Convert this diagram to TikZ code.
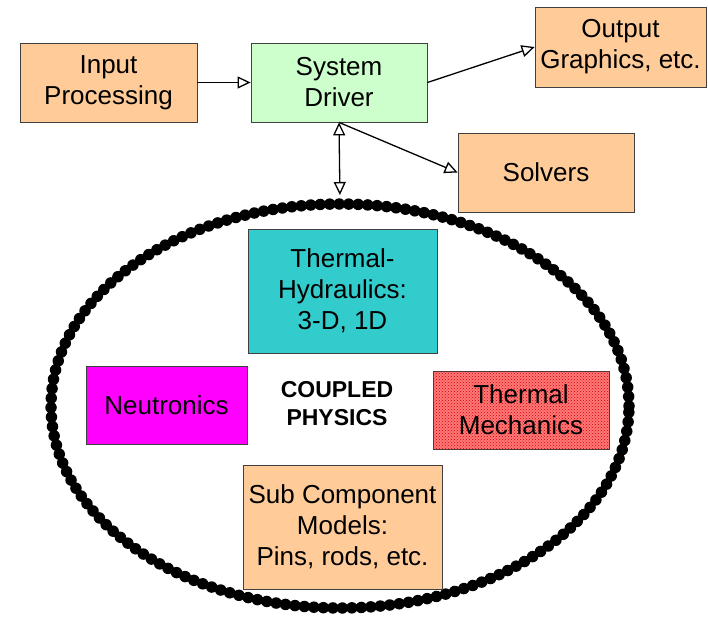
\documentclass[tikz,border=0pt]{standalone}
\usepackage{fontspec}
\setmainfont{Liberation Sans}
\usetikzlibrary{arrows.meta,shapes.geometric,patterns}

\begin{document}
\begin{tikzpicture}[x=1pt, y=-1pt, >={Triangle[open, length=13pt, width=12pt]},
		font=\fontsize{26}{31}\selectfont,
		box/.style={draw=black!75, line width=0.8pt, inner sep=0pt, align=center},
		link/.style={->, line width=1.3pt}]
			\definecolor{peach}{RGB}{255, 204, 153}
			\definecolor{mint}{RGB}{204, 255, 204}
			\definecolor{teal}{RGB}{51, 204, 204}
			\definecolor{pinkish}{RGB}{255, 0, 255}
			\definecolor{tmred}{RGB}{255, 120, 120}

			\useasboundingbox (0,0) rectangle (708,618);

			% 上方模块
			\node[box, fill=peach, minimum width=177pt, minimum height=79pt] (inp) at (108.5,82.5) {Input\\Processing};
			\node[box, fill=mint, minimum width=176pt, minimum height=79pt] (drv) at (339,82.5) {System\\Driver};
			\node[box, fill=peach, minimum width=171pt, minimum height=80pt] (outp) at (620.5,47) {Output\\Graphics, etc.};
			\node[box, fill=peach, minimum width=176pt, minimum height=79pt] (solv) at (546,172.5) {Solvers};

			% 耦合物理椭圆
			\node[ellipse, draw, line width=6pt, minimum width=578pt, minimum height=404pt,
				postaction={draw, line width=11.5pt, dash pattern=on 0pt off 9.5pt, line cap=round}] (phys) at (340,406) {};

			\node[box, fill=teal, minimum width=189pt, minimum height=124pt] (th) at (342.5,291) {Thermal-\\Hydraulics:\\3-D, 1D};
			\node[box, fill=pinkish, minimum width=161pt, minimum height=78pt] (neu) at (166.5,405) {Neutronics};
			\node[box, fill=tmred, minimum width=176pt, minimum height=78pt,
				postaction={pattern=crosshatch dots, pattern color=red!85!black}] (tm) at (521,410) {Thermal\\Mechanics};
			\node[box, fill=peach, minimum width=199pt, minimum height=124pt] (sub) at (342.5,527) {Sub Component\\Models:\\Pins, rods, etc.};
			\node[align=center, font=\fontsize{23}{28}\selectfont\bfseries] (cp) at (337,404) {COUPLED\\PHYSICS};

			% 连接箭头
			\draw[link] (inp) -- (drv);
			\draw[link] (drv.east) -- (outp.west);
			\draw[link] (drv.south) -- (solv.west);
			\draw[link, <->, shorten >=6pt] (drv.south) -- (phys.north);
		\end{tikzpicture}
\end{document}
